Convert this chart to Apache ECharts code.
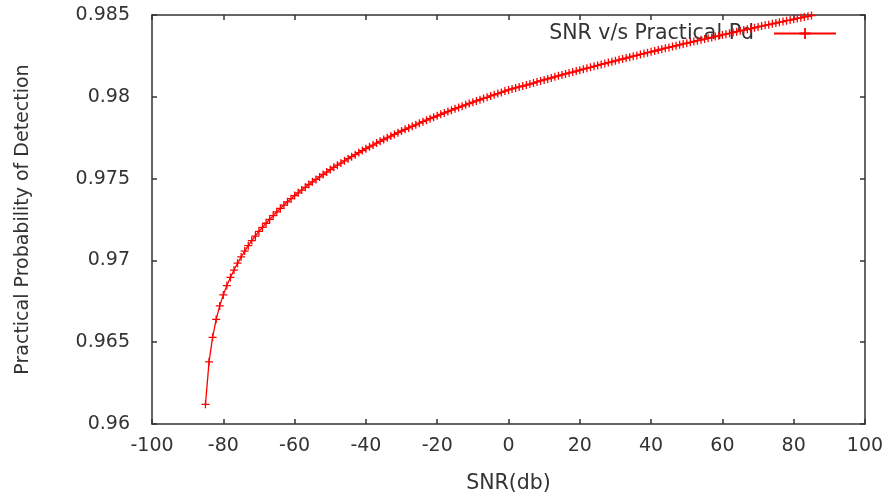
<!DOCTYPE html>
<html>
<head>
<meta charset="utf-8">
<script src="https://cdn.jsdelivr.net/npm/echarts@6/dist/echarts.min.js"></script>
<style>
html,body{margin:0;padding:0;background:#fff;}
#chart{width:888px;height:502px;}
</style>
</head>
<body>
<div id="chart"></div>
<script>
var snr = [-85,-84,-83,-82,-81,-80,-79,-78,-77,-76,-75,-74,-73,-72,-71,-70,-69,-68,-67,-66,-65,-64,-63,-62,-61,-60,-59,-58,-57,-56,-55,-54,-53,-52,-51,-50,-49,-48,-47,-46,-45,-44,-43,-42,-41,-40,-39,-38,-37,-36,-35,-34,-33,-32,-31,-30,-29,-28,-27,-26,-25,-24,-23,-22,-21,-20,-19,-18,-17,-16,-15,-14,-13,-12,-11,-10,-9,-8,-7,-6,-5,-4,-3,-2,-1,0,1,2,3,4,5,6,7,8,9,10,11,12,13,14,15,16,17,18,19,20,21,22,23,24,25,26,27,28,29,30,31,32,33,34,35,36,37,38,39,40,41,42,43,44,45,46,47,48,49,50,51,52,53,54,55,56,57,58,59,60,61,62,63,64,65,66,67,68,69,70,71,72,73,74,75,76,77,78,79,80,81,82,83,84,85];
var pd = [0.96120,0.96380,0.96530,0.96640,0.96722,0.96789,0.96846,0.96896,0.96941,0.96983,0.97021,0.97057,0.97090,0.97121,0.97149,0.97177,
0.97202,0.97227,0.97251,0.97274,0.97297,
0.97318,0.97338,0.97358,0.97377,0.97396,
0.97413,0.97430,0.97447,0.97464,0.97480,
0.97495,0.97510,0.97525,0.97540,0.97555,
0.97569,0.97582,0.97595,0.97609,0.97622,
0.97634,0.97646,0.97659,0.97671,0.97683,
0.97694,0.97705,0.97717,0.97728,0.97739,
0.97749,0.97760,0.97770,0.97781,0.97791,
0.97801,0.97810,0.97820,0.97829,0.97839,
0.97848,0.97857,0.97866,0.97875,0.97884,
0.97893,0.97901,0.97910,0.97918,0.97927,
0.97935,0.97943,0.97951,0.97959,0.97967,
0.97975,0.97982,0.97990,0.97997,0.98005,
0.98012,0.98020,0.98027,0.98035,0.98042,
0.98048,0.98054,0.98060,0.98066,0.98072,
0.98078,0.98084,0.98091,0.98097,0.98103,
0.98109,0.98115,0.98122,0.98128,0.98134,
0.98140,0.98146,0.98151,0.98157,0.98163,
0.98169,0.98175,0.98180,0.98186,0.98192,
0.98198,0.98203,0.98209,0.98214,0.98220,
0.98226,0.98231,0.98237,0.98242,0.98248,
0.98253,0.98259,0.98264,0.98270,0.98275,
0.98280,0.98286,0.98291,0.98297,0.98302,
0.98307,0.98312,0.98318,0.98323,0.98328,
0.98333,0.98338,0.98343,0.98348,0.98353,
0.98358,0.98363,0.98368,0.98373,0.98378,
0.98383,0.98388,0.98393,0.98398,0.98403,
0.98408,0.98413,0.98417,0.98422,0.98427,
0.98432,0.98437,0.98441,0.98446,0.98451,
0.98456,0.98460,0.98465,0.98469,0.98474,
0.98479,0.98483,0.98488,0.98492,0.98497];
var seriesName = 'SNR v/s Practical Pd';
var xAxisName = 'SNR(db)';
var yAxisName = 'Practical Probability of Detection';
var xTicks = ['-100','-80','-60','-40','-20','0','20','40','60','80','100'];
var yTicks = ['0.96','0.965','0.97','0.975','0.98','0.985'];

var points = snr.map(function (x, i) { return [x, pd[i]]; });
var FONT = 'DejaVu Sans';
var AX = '#333333';
var TXT = '#333333';
var plus = 'path://M0,4.2H10V5.8H0Z M4.2,0H5.8V10H4.2Z';

function xAxisCfg(pos, showLabel) {
  return {
    type: 'value', position: pos, min: -100, max: 100, interval: 20,
    axisLine: { show: true, onZero: false, lineStyle: { color: AX, width: 1.5 } },
    axisTick: { show: true, inside: true, length: 5, lineStyle: { color: AX, width: 1.5 } },
    splitLine: { show: false },
    axisLabel: { show: showLabel, margin: 13, color: TXT, fontFamily: FONT, fontSize: 19,
      formatter: function (v) { var k = Math.round((v + 100) / 20); return xTicks[k]; } }
  };
}
function yAxisCfg(pos, showLabel) {
  return {
    type: 'value', position: pos, min: 0.96, max: 0.985, interval: 0.005,
    axisLine: { show: true, onZero: false, lineStyle: { color: AX, width: 1.5 } },
    axisTick: { show: true, inside: true, length: 5, lineStyle: { color: AX, width: 1.5 } },
    splitLine: { show: false },
    axisLabel: { show: showLabel, margin: 22, color: TXT, fontFamily: FONT, fontSize: 19,
      formatter: function (v) { var k = Math.round((v - 0.96) / 0.005); return yTicks[k]; } }
  };
}

var chart = echarts.init(document.getElementById('chart'), null, { renderer: 'canvas' });
var xb = xAxisCfg('bottom', true);
xb.name = xAxisName; xb.nameLocation = 'middle'; xb.nameGap = 49;
xb.nameTextStyle = { color: TXT, fontFamily: FONT, fontSize: 20.5 };
var yl = yAxisCfg('left', true);
yl.name = yAxisName; yl.nameLocation = 'middle'; yl.nameGap = 119; yl.nameRotate = 90;
yl.nameTextStyle = { color: TXT, fontFamily: FONT, fontSize: 19 };

chart.setOption({
  animation: false,
  backgroundColor: '#ffffff',
  grid: { left: 152, right: 23, top: 15, bottom: 78, containLabel: false },
  legend: {
    data: [seriesName], right: 51, top: 23, padding: 0, align: 'right', z: 1,
    itemWidth: 62, itemHeight: 14,
    textStyle: { color: TXT, fontFamily: FONT, fontSize: 20.5, padding: [0, 15, 0, 0] }
  },
  xAxis: [xb, xAxisCfg('top', false)],
  yAxis: [yl, yAxisCfg('right', false)],
  series: [{
    name: seriesName, type: 'line', xAxisIndex: 0, yAxisIndex: 0,
    data: points, showSymbol: true, showAllSymbol: true,
    symbol: plus, symbolSize: 8,
    lineStyle: { color: '#ff0000', width: 1.3 },
    itemStyle: { color: '#ff0000' },
    z: 3
  }]
});
</script>
</body>
</html>
